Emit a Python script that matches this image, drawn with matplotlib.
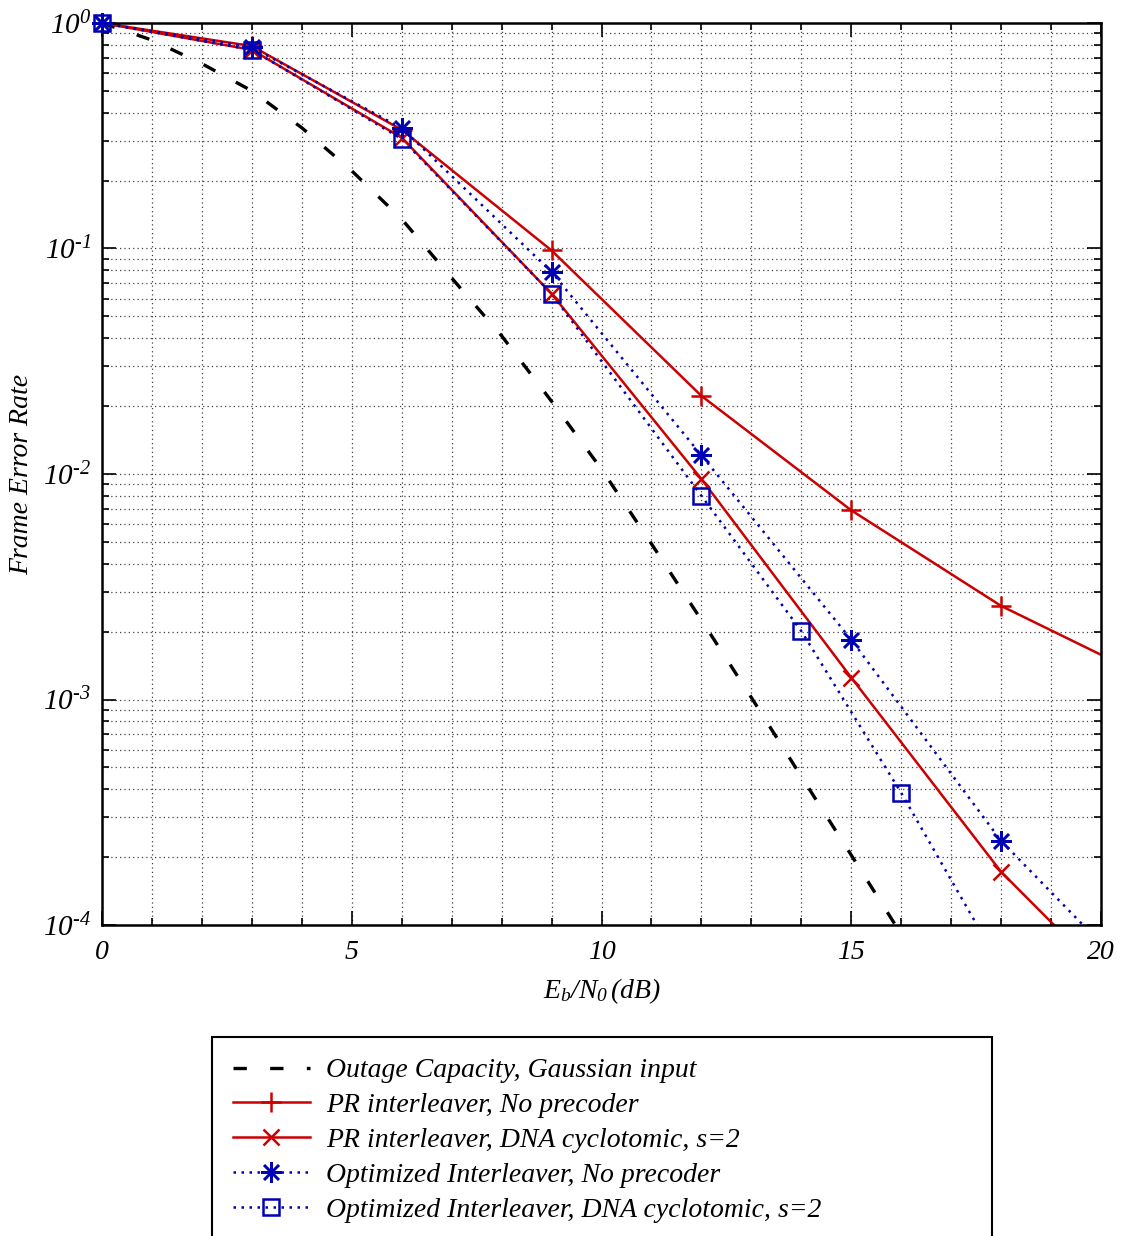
import numpy as np
import matplotlib
matplotlib.use("Agg")
import matplotlib.pyplot as plt
from matplotlib.ticker import FuncFormatter, LogLocator, MultipleLocator, NullFormatter

plt.rcParams["font.family"] = ["Liberation Serif", "DejaVu Serif"]
plt.rcParams["font.style"] = "italic"
plt.rcParams["mathtext.fontset"] = "custom"
plt.rcParams["mathtext.rm"] = "Liberation Serif:italic"
plt.rcParams["mathtext.it"] = "Liberation Serif:italic"

# Outage capacity (Gaussian input)
ebn0_outage = [0, 1, 2, 3, 4, 5, 6, 7, 8, 9, 10, 11, 12, 13, 14, 15, 16, 17]
fer_outage = [1.0, 0.84, 0.66, 0.50, 0.343, 0.221, 0.135, 0.074, 0.041, 0.021,
              0.0105, 0.0049, 0.00225, 0.00102, 4.55e-4, 2.04e-4, 9.1e-5, 4.0e-5]

# PR interleaver, no precoder
ebn0_pr_noprec = [0, 3, 6, 9, 12, 15, 18, 21]
fer_pr_noprec = [1.0, 0.79, 0.336, 0.098, 0.0222, 0.0069, 0.0026, 0.00123]

# PR interleaver, DNA cyclotomic s=2
ebn0_pr_dna = [0, 3, 6, 9, 12, 15, 18, 21]
fer_pr_dna = [1.0, 0.76, 0.31, 0.063, 0.0095, 0.00125, 1.72e-4, 3.7e-5]

# Optimized interleaver, no precoder
ebn0_opt_noprec = [0, 3, 6, 9, 12, 15, 18, 21]
fer_opt_noprec = [1.0, 0.78, 0.342, 0.0787, 0.0121, 0.00184, 2.36e-4, 4.9e-5]

# Optimized interleaver, DNA cyclotomic s=2
ebn0_opt_dna = [0, 3, 6, 9, 12, 14, 16, 18]
fer_opt_dna = [1.0, 0.76, 0.306, 0.063, 0.008, 0.00201, 3.85e-4, 6.5e-5]

red = "#cc0000"
blue = "#0000b4"
dotted = (0, (1, 2.2))

fig = plt.figure(figsize=(11.27, 12.36), dpi=100)
ax = fig.add_axes([0.0905, 0.2516, 0.8865, 0.7298])

x_lim = (0, 20)
y_lim = (1e-4, 1)


def series(x, y, color, ls, marker, ms, mfc, label):
    x = np.array(x)
    y = np.array(y)
    line, = ax.plot(x, y, color=color, lw=1.8, ls=ls)
    # markers inside the plotting range are drawn unclipped (like gnuplot)
    keep = (x >= x_lim[0]) & (x <= x_lim[1]) & (y >= y_lim[0]) & (y <= y_lim[1])
    pts, = ax.plot(x[keep], y[keep], ls="none", color=color, marker=marker,
                   ms=ms, mew=1.8, mfc=mfc, clip_on=False, zorder=3)
    return (line, pts), label


handles = []
labels = []
line_out, = ax.plot(ebn0_outage, fer_outage, color="black", lw=2.4, dashes=(4, 7))
handles.append(line_out)
labels.append("Outage Capacity, Gaussian input")
for h, l in [
    series(ebn0_pr_noprec, fer_pr_noprec, red, "-", "+", 15, red,
           "PR interleaver, No precoder"),
    series(ebn0_pr_dna, fer_pr_dna, red, "-", "x", 12, red,
           "PR interleaver, DNA cyclotomic, s=2"),
    series(ebn0_opt_noprec, fer_opt_noprec, blue, dotted, (8, 2, 0), 15, blue,
           "Optimized Interleaver, No precoder"),
    series(ebn0_opt_dna, fer_opt_dna, blue, dotted, "s", 12, "none",
           "Optimized Interleaver, DNA cyclotomic, s=2"),
]:
    handles.append(h)
    labels.append(l)

ax.set_yscale("log")
ax.set_xlim(*x_lim)
ax.set_ylim(*y_lim)

ax.xaxis.set_major_locator(MultipleLocator(5))
ax.xaxis.set_minor_locator(MultipleLocator(1))
ax.yaxis.set_major_locator(LogLocator(base=10, numticks=10))
ax.yaxis.set_minor_locator(LogLocator(base=10, subs=np.arange(2, 10), numticks=20))
ax.yaxis.set_minor_formatter(NullFormatter())
ax.yaxis.set_major_formatter(
    FuncFormatter(lambda v, p: r"$10^{\text{%d}}$" % round(np.log10(v))))
ax.xaxis.set_major_formatter(FuncFormatter(lambda v, p: "%d" % v))

ax.grid(True, which="both", color="0.25", lw=0.9, ls=(0, (1, 2.5)))
ax.tick_params(which="both", direction="in", top=True, right=True,
               labelsize=20, width=1.2)
ax.tick_params(which="major", length=10, pad=11)
ax.tick_params(which="minor", length=5)
ax.tick_params(axis="y", pad=8, labelsize=21)
for s in ax.spines.values():
    s.set_linewidth(1.8)

ax.set_xlabel(r"$E_b/N_0\,$(dB)", fontsize=20, labelpad=8)
ax.set_ylabel("Frame Error Rate", fontsize=20, labelpad=6)

leg = fig.legend(handles, labels, loc="upper left",
                 bbox_to_anchor=(0.188, 0.0, 0.692, 1 - 1037 / 1236),
                 mode="expand", borderaxespad=0, fontsize=20, frameon=True,
                 fancybox=False, edgecolor="black", framealpha=1,
                 handlelength=2.77, handletextpad=0.6, labelspacing=0.34,
                 borderpad=0.75)
leg.get_frame().set_linewidth(1.5)

fig.savefig("out.png", dpi=100)
